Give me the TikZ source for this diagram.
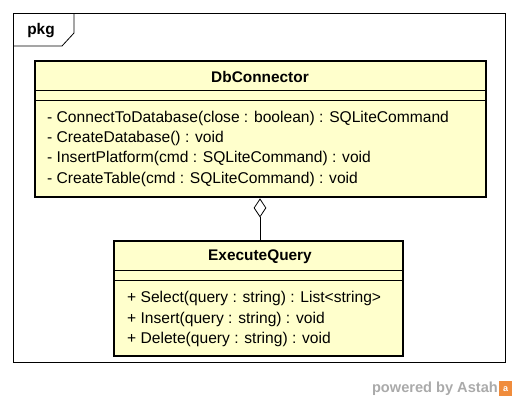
\documentclass[tikz,border=0pt]{standalone}
\usepackage{fontspec}
\setmainfont{Liberation Sans}
\usetikzlibrary{shapes.geometric}
\definecolor{classfill}{RGB}{255,255,204}
\definecolor{astahgray}{RGB}{170,170,170}
\definecolor{astahorange}{RGB}{240,140,60}
\begin{document}
\begin{tikzpicture}[x=1pt,y=-1pt,
  classbox/.style={draw=black,line width=2.6pt,fill=classfill},
  sep/.style={draw=black,line width=0.9pt},
  cname/.style={font=\fontsize{15.4}{17}\selectfont\bfseries,anchor=center,inner sep=0pt},
  member/.style={font=\fontsize{15.6}{17}\selectfont,anchor=west,inner sep=0pt},
  frame/.style={draw=black,line width=0.8pt}]
\useasboundingbox (0,0) rectangle (518,402);
% package frame
\draw[frame] (13,13) rectangle (505,362);
\draw[frame] (13,46) -- (62,46) -- (74,33) -- (74,13);
\node[font=\fontsize{15.4}{17}\selectfont\bfseries,anchor=center,inner sep=0pt] (pkg) at (41,31) {pkg};
% DbConnector
\draw[classbox] (35,61) rectangle (486,197);
\coordinate (dbbottom) at (260,197);
\draw[sep] (35,90) -- (486,90);
\draw[sep] (35,100) -- (486,100);
\node[cname] (dbname) at (260,77) {DbConnector};
\node[member] (m1) at (47,118) {- ConnectToDatabase(close : boolean) : SQLiteCommand};
\node[member] (m2) at (47,138) {- CreateDatabase() : void};
\node[member] (m3) at (47,158) {- InsertPlatform(cmd : SQLiteCommand) : void};
\node[member] (m4) at (47,179) {- CreateTable(cmd : SQLiteCommand) : void};
% ExecuteQuery
\draw[classbox] (114,241) rectangle (403,356);
\coordinate (eqtop) at (260,241);
\draw[sep] (114,270) -- (403,270);
\draw[sep] (114,280) -- (403,280);
\node[cname] (eqname) at (260,257) {ExecuteQuery};
\node[member] (e1) at (127,298) {+ Select(query : string) : List<string>};
\node[member] (e2) at (127,319) {+ Insert(query : string) : void};
\node[member] (e3) at (127,339) {+ Delete(query : string) : void};
% aggregation
\node[diamond,draw=black,fill=white,line width=0.8pt,minimum width=12pt,minimum height=18pt,inner sep=0pt,anchor=north] (dia) at (260,198.5) {};
\draw[line width=0.8pt] (dia.south) -- (eqtop);
% watermark
\node[font=\fontsize{14.6}{16}\selectfont\bfseries,text=astahgray,anchor=east,inner sep=0pt] (pw) at (498,389) {powered by Astah};
\fill[astahorange] (499,381) rectangle (512,396);
\node[font=\fontsize{9}{10}\selectfont\bfseries,text=white,inner sep=0pt] (logo) at (505.5,389) {a};
\end{tikzpicture}
\end{document}
